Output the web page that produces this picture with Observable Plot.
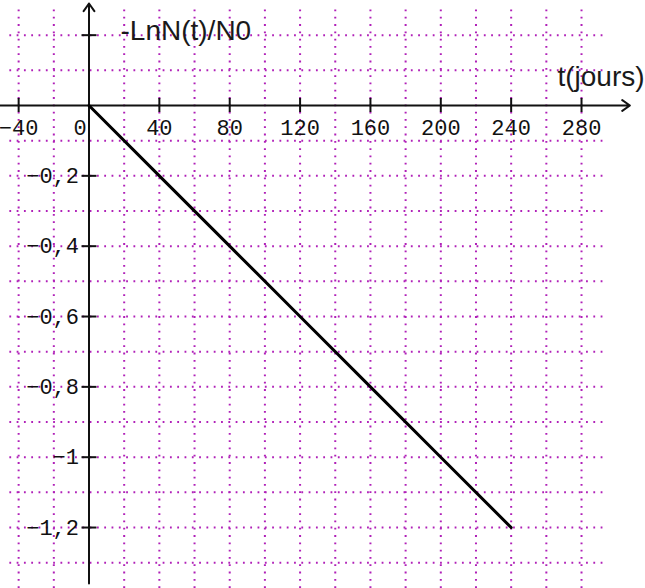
<!DOCTYPE html>
<html>
<head>
<meta charset="utf-8">
<script src="https://cdn.jsdelivr.net/npm/d3@7"></script>
<script src="https://cdn.jsdelivr.net/npm/@observablehq/plot@0.6"></script>
<style>
  html, body { margin: 0; padding: 0; background: #fff; }
  #chart svg { display: block; }
</style>
</head>
<body>
<div id="chart"></div>
<script>
// Data
const tDays = [0, 40, 80, 120, 160, 200, 240];
const negLnRatio = [0, -0.2, -0.4, -0.6, -0.8, -1.0, -1.2];

const xTicks = [-40, 0, 40, 80, 120, 160, 200, 240, 280];
const xTickLabels = ["\u221240", "0", "40", "80", "120", "160", "200", "240", "280"];
const yTicks = [0.2, -0.2, -0.4, -0.6, -0.8, -1.0, -1.2];
const yTickLabels = ["", "\u22120,2", "\u22120,4", "\u22120,6", "\u22120,8", "\u22121", "\u22121,2"];
const xGrid = [-40, -20, 20, 40, 60, 80, 100, 120, 140, 160, 180, 200, 220, 240, 260, 280];
const yGrid = [0.2, 0.1, -0.1, -0.2, -0.3, -0.4, -0.5, -0.6, -0.7, -0.8, -0.9, -1.0, -1.1, -1.2, -1.3];

const yTitle = "-LnN(t)/N0";
const xTitle = "t(jours)";

const data = tDays.map((t, i) => ({t, v: negLnRatio[i]}));
const xTickData = xTicks.map((x, i) => ({x, label: xTickLabels[i]}));
const yTickData = yTicks.map((y, i) => ({y, label: yTickLabels[i]}));

const pxPerDay = 1.759, pxPerUnit = 351.7, ox = 88.5, oy = 105;
const W = 645, H = 588;
const xDomain = [-ox / pxPerDay, (W - ox) / pxPerDay];
const yDomain = [-(H - oy) / pxPerUnit, oy / pxPerUnit];

const gridColor = "#b020b8";
const monoFont = "Liberation Mono, DejaVu Sans Mono, monospace";
const sansFont = "Liberation Sans, Arial, sans-serif";

const chart = Plot.plot({
  width: W,
  height: H,
  margin: 0,
  x: {domain: xDomain, axis: null},
  y: {domain: yDomain, axis: null},
  style: {background: "#fff"},
  marks: [
    // dotted grid
    Plot.ruleX(xGrid, {x: d => d, y1: yDomain[0], y2: 0.285, stroke: gridColor, strokeWidth: 2, strokeDasharray: "1.8,5.5"}),
    Plot.ruleY(yGrid, {y: d => d, x1: -45, x2: 295, stroke: gridColor, strokeWidth: 2, strokeDasharray: "1.8,5.5"}),
    // axes with arrows
    Plot.arrow([{x1: xDomain[0], x2: 307.5, y1: 0, y2: 0}], {x1: "x1", x2: "x2", y1: "y1", y2: "y2", stroke: "#111", strokeWidth: 2, headLength: 7, headAngle: 70}),
    Plot.arrow([{x1: 0, x2: 0, y1: -1.359, y2: 0.29}], {x1: "x1", x2: "x2", y1: "y1", y2: "y2", stroke: "#111", strokeWidth: 2, headLength: 7, headAngle: 70}),
    // ticks
    Plot.ruleX(xTickData, {x: "x", y1: 0, y2: 0, insetTop: -7, insetBottom: -7, stroke: "#111", strokeWidth: 2}),
    Plot.ruleY(yTickData, {y: "y", x1: 0, x2: 0, insetLeft: -7, insetRight: -8, stroke: "#111", strokeWidth: 2}),
    // tick labels
    Plot.text(xTickData.filter(d => d.x !== 0), {x: "x", y: 0, text: "label", dy: 22, fontFamily: monoFont, fontSize: 22, fill: "#111"}),
    Plot.text(xTickData.filter(d => d.x === 0), {x: "x", y: 0, text: "label", dy: 22, dx: -9, fontFamily: monoFont, fontSize: 22, fill: "#111"}),
    Plot.text(yTickData, {x: 0, y: "y", text: "label", dx: -10, textAnchor: "end", fontFamily: monoFont, fontSize: 22, fill: "#111"}),
    // data line
    Plot.line(data, {x: "t", y: "v", stroke: "#000", strokeWidth: 3}),
    // axis titles
    Plot.text([yTitle], {x: 17.9, y: 0.211, text: d => d, textAnchor: "start", fontFamily: sansFont, fontSize: 28, fill: "#1a1a1a"}),
    Plot.text([xTitle], {x: 266.3, y: 0.081, text: d => d, textAnchor: "start", fontFamily: sansFont, fontSize: 28, fill: "#1a1a1a"})
  ]
});
document.getElementById("chart").appendChild(chart);
</script>
</body>
</html>
